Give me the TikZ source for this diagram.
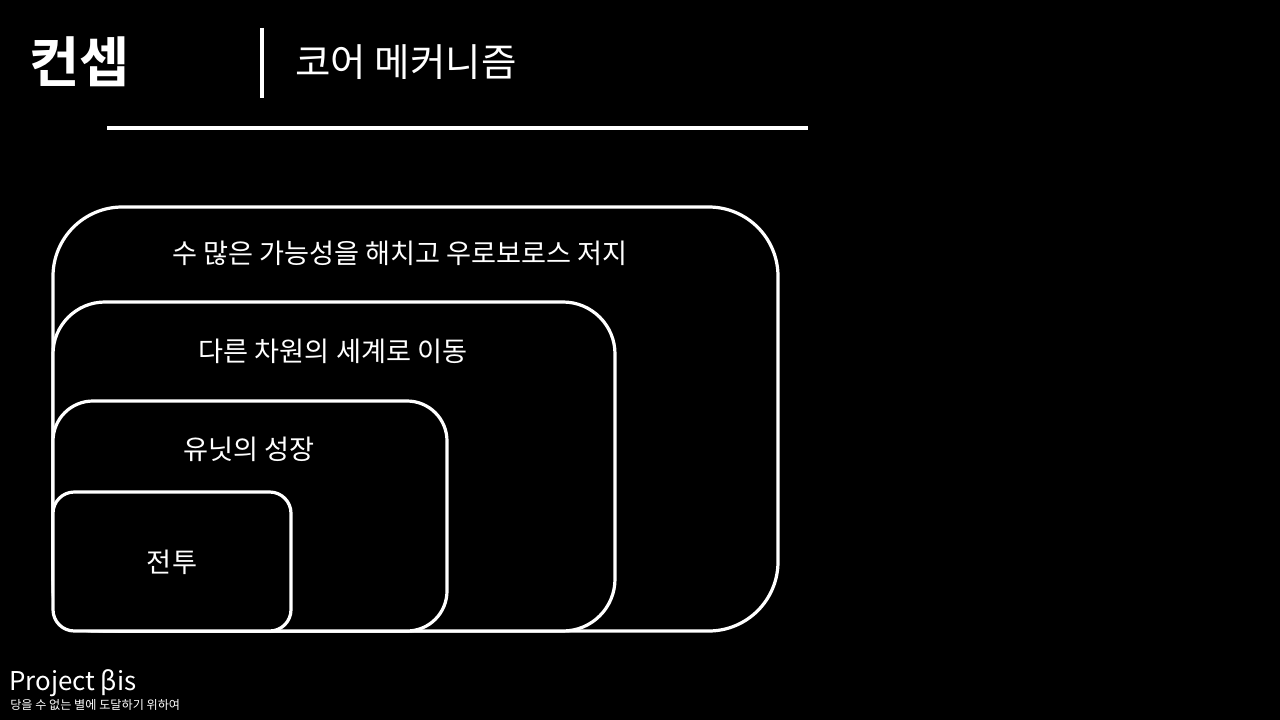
\documentclass[tikz,border=0pt]{standalone}
\usepackage{fontspec}
\setmainfont{Noto Sans CJK KR}
\newfontfamily\krbold{Noto Sans CJK KR Bold}
\begin{document}
\begin{tikzpicture}[x=0.75pt,y=-0.75pt,
  frame/.style={draw=white,fill=black,line width=2.4pt},
  label/.style={text=white,font=\fontsize{20.4pt}{23pt}\selectfont,inner sep=0pt,anchor=center}]
\fill[black] (0,0) rectangle (1280,720);
\useasboundingbox (0,0) rectangle (1280,720);
% header
\node[text=white,font=\krbold\fontsize{41pt}{44pt}\selectfont,inner sep=0pt,anchor=west] (title) at (29,62) {컨셉};
\node[text=white,font=\fontsize{28.9pt}{32pt}\selectfont,inner sep=0pt,anchor=west] (sub) at (295,62) {코어 메커니즘};
\draw[white,line width=2.4pt] (262,28) -- (262,98);
\draw[white,line width=2.4pt] (107,128) -- (808,128);
% nested boxes
\draw[frame,rounded corners=52pt] (53,207) rectangle (778,631);
\draw[frame,rounded corners=39pt] (53,302) rectangle (615,631);
\draw[frame,rounded corners=30pt] (53,401) rectangle (447,631);
\draw[frame,rounded corners=16pt] (53,492) rectangle (291,631);
\node[label] (l1) at (400,253) {수 많은 가능성을 해치고 우로보로스 저지};
\node[label] (l2) at (333,351) {다른 차원의 세계로 이동};
\node[label] (l3) at (249,449) {유닛의 성장};
\node[label] (l4) at (172,562) {전투};
% footer
\node[text=white,font=\fontsize{19.4pt}{21pt}\selectfont,inner sep=0pt,anchor=west] (proj) at (9,683) {Project βis};
\node[text=white,font=\fontsize{9.1pt}{10pt}\selectfont,inner sep=0pt,anchor=west] (motto) at (10,705) {당을 수 없는 별에 도달하기 위하여};
\end{tikzpicture}
\end{document}
